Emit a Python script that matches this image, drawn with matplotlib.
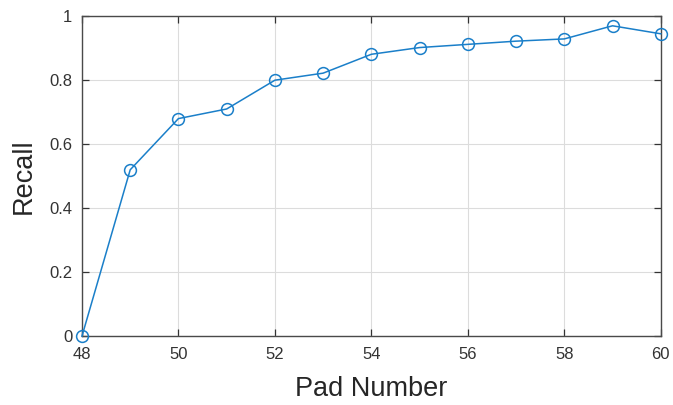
import matplotlib
matplotlib.use("Agg")
import matplotlib.pyplot as plt

pad_number = [48, 49, 50, 51, 52, 53, 54, 55, 56, 57, 58, 59, 60]
recall = [0.0, 0.52, 0.68, 0.71, 0.80, 0.822, 0.881, 0.902, 0.912, 0.922, 0.929, 0.970, 0.945]
x_ticks = [48, 50, 52, 54, 56, 58, 60]
y_ticks = [0, 0.2, 0.4, 0.6, 0.8, 1]
y_tick_labels = ["0", "0.2", "0.4", "0.6", "0.8", "1"]

plt.rcParams['font.family'] = ['Liberation Sans', 'DejaVu Sans']

fig = plt.figure(figsize=(6.73, 4.05), dpi=100)
ax = fig.add_axes([0.1218, 0.170, 0.860, 0.790])
ax.plot(pad_number, recall, color='#1a7fc9', lw=1.1, marker='o', ms=8.5,
        mfc='none', mec='#1a7fc9', mew=1.1, clip_on=False, zorder=3)
ax.set_xlim(48, 60)
ax.set_ylim(0, 1)
ax.set_xticks(x_ticks)
ax.set_yticks(y_ticks)
ax.set_yticklabels(y_tick_labels)
ax.grid(True, color='#dcdcdc', lw=0.8)
ax.set_axisbelow(True)
ax.tick_params(direction='in', top=True, right=True, length=5, width=0.9,
               colors='#333333', labelsize=12)
ax.tick_params(axis='x', pad=8)
ax.tick_params(axis='y', pad=7)
for s in ax.spines.values():
    s.set_color('#4a4a4a')
    s.set_linewidth(1.0)
ax.set_xlabel('Pad Number', fontsize=19.5, color='#262626', labelpad=10)
ax.set_ylabel('Recall', fontsize=19.5, color='#262626', labelpad=9)
fig.savefig('out.png', dpi=100)
